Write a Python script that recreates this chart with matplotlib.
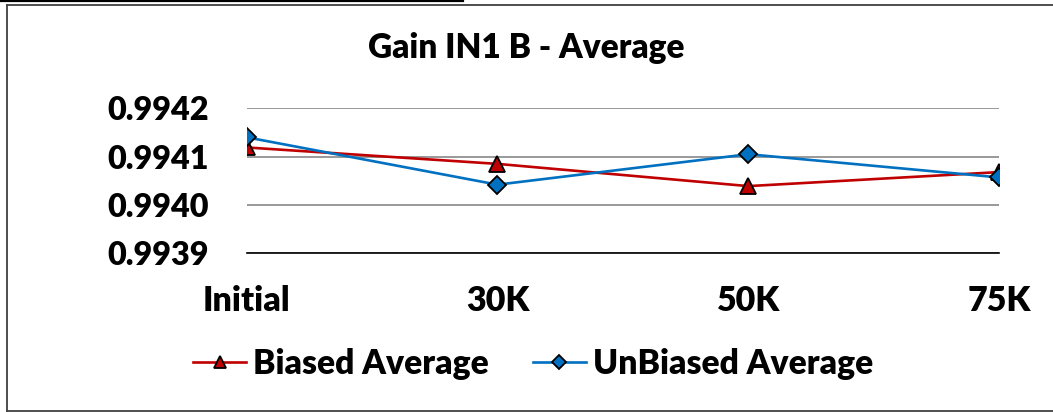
import matplotlib
matplotlib.use("Agg")
import matplotlib.pyplot as plt
from matplotlib.lines import Line2D

categories = ["Initial", "30K", "50K", "75K"]
biased = [0.994119, 0.994085, 0.994039, 0.994068]
unbiased = [0.994140, 0.994042, 0.994105, 0.994057]
yticks = [0.9939, 0.9940, 0.9941, 0.9942]
ytick_labels = ["0.9939", "0.9940", "0.9941", "0.9942"]

plt.rcParams['font.family'] = ['Lato', 'DejaVu Sans']
FW = "heavy"

fig = plt.figure(figsize=(10.53, 4.12), dpi=100)
W, H = 1053, 412
ax = fig.add_axes([246.7 / W, 1 - 253.3 / H, (999 - 246.7) / W, (253.3 - 108.3) / H])

x = list(range(len(categories)))
ax.plot(x, biased, color="#C00000", lw=1.9, marker="^", ms=11,
        mfc="#C00000", mec="black", mew=1.3, label="Biased Average", zorder=3)
ax.plot(x, unbiased, color="#0070C0", lw=1.9, marker="D", ms=9,
        mfc="#0070C0", mec="black", mew=1.3, label="UnBiased Average", zorder=4)

ax.set_xlim(0, len(categories) - 1)
ax.set_ylim(yticks[0], yticks[-1])
ax.set_yticks(yticks)
ax.set_yticklabels(ytick_labels)
ax.set_xticks(x)
ax.set_xticklabels(categories)
for t in ax.get_yticklabels():
    t.set_fontweight(FW)
    t.set_fontsize(23.3)
for t in ax.get_xticklabels():
    t.set_fontweight(FW)
    t.set_fontsize(24.5)
ax.tick_params(axis="y", length=0, pad=27)
ax.tick_params(axis="x", length=0, pad=23)

for s in ["top", "right", "left"]:
    ax.spines[s].set_visible(False)
ax.spines["bottom"].set_color("black")
ax.spines["bottom"].set_linewidth(1.2)
ax.grid(axis="y", color="#999999", lw=1.4)
ax.set_axisbelow(True)

fig.text(0.5, 1 - 48 / H, "Gain IN1 B - Average", ha="center", va="center",
         fontsize=24, fontweight=FW)

leg = fig.legend(loc="center", bbox_to_anchor=(533 / W, 1 - 364 / H), ncol=2,
                 frameon=False, prop={"weight": FW, "size": 24.2},
                 handlelength=1.6, columnspacing=1.3, handletextpad=0.2,
                 markerscale=0.8)

# chart border and page line
fig.add_artist(Line2D([7 / W, 7 / W], [1 - 4.5 / H, 1 - 411 / H], color="#404040", lw=1.3,
                      transform=fig.transFigure))
fig.add_artist(Line2D([7 / W, 1], [1 - 4.5 / H, 1 - 4.5 / H], color="#404040", lw=1.3,
                      transform=fig.transFigure))
fig.add_artist(Line2D([7 / W, 1], [1 - 411 / H, 1 - 411 / H], color="#404040", lw=1.3,
                      transform=fig.transFigure))
fig.add_artist(Line2D([0, 463 / W], [1 - 0.8 / H, 1 - 0.8 / H], color="black", lw=1.6,
                      transform=fig.transFigure))

fig.savefig("out.png", dpi=100)
